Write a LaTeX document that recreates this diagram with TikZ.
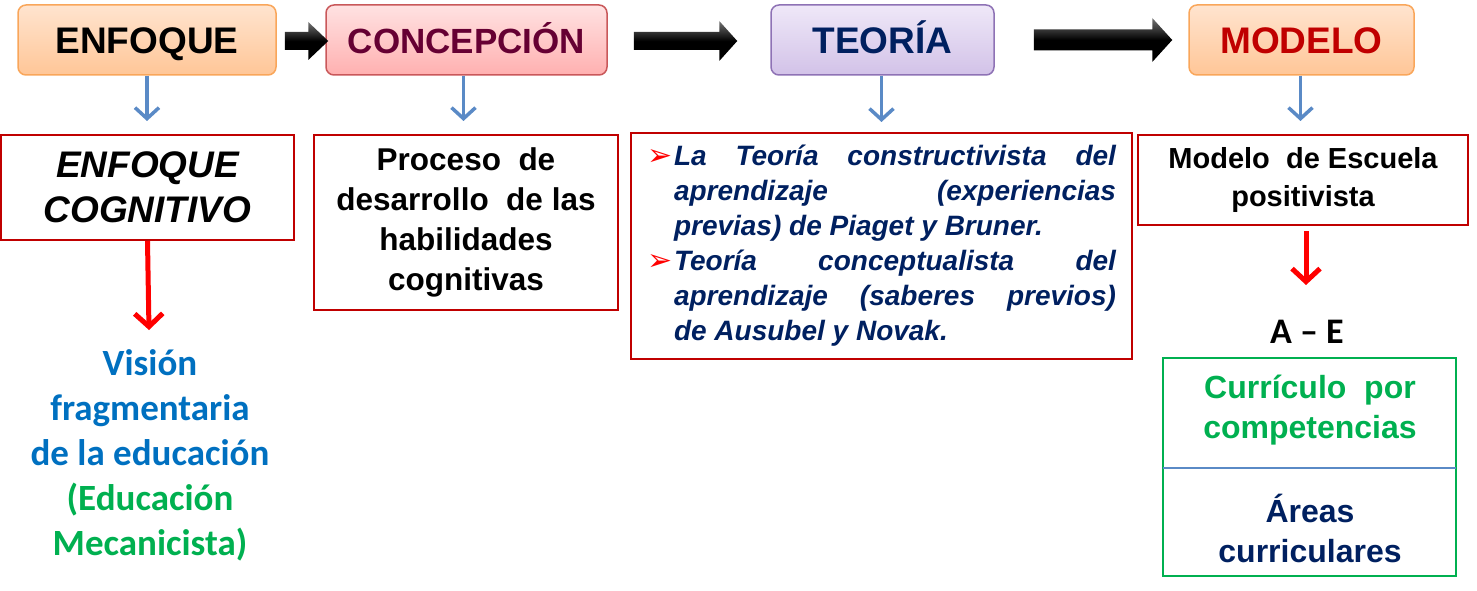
\documentclass[tikz,border=0pt]{standalone}
\usepackage{fontspec}
\setmainfont{Liberation Sans}
\newfontfamily\calibri{Carlito}
\newfontfamily\dejavu{DejaVu Sans}
\usetikzlibrary{arrows.meta,calc}
\definecolor{redbd}{HTML}{C00000}
\definecolor{navy}{HTML}{002060}
\definecolor{maroon}{HTML}{660033}
\definecolor{vblue}{HTML}{0070C0}
\definecolor{vgreen}{HTML}{00B050}
\definecolor{arrblue}{HTML}{5A8AC6}
\definecolor{orbd}{HTML}{F9A65A}
\definecolor{ortop}{HTML}{FFE4CF}
\definecolor{orbot}{HTML}{FFC697}
\definecolor{pkbd}{HTML}{C9585A}
\definecolor{pktop}{HTML}{FFE2E2}
\definecolor{pkbot}{HTML}{FFB0B0}
\definecolor{vibd}{HTML}{8E72B5}
\definecolor{vitop}{HTML}{EFE8F8}
\definecolor{vibot}{HTML}{D2C2E8}
\tikzset{
  hdr/.style={rounded corners=8pt, line width=1.5pt, minimum height=70pt,
    font=\fontsize{37}{40}\selectfont\bfseries, inner sep=0pt,
    text height=26.5pt, text depth=0pt},
  redbox/.style={draw=redbd, line width=2pt, inner sep=0pt, align=center},
  bluearr/.style={draw=arrblue, line width=3.5pt, -{Straight Barb[length=11pt,width=24pt]}},
  redarr/.style={draw=red, line width=5pt, -{Straight Barb[length=13pt,width=28pt]}},
  blockarr/.style={top color=black!55, bottom color=black, middle color=black},
}
\newcommand\blockarrow[5]{%
  \shade[blockarr] let \p1=(#1), \p2=(#2) in
    (\x1,\y1+#3) -- (\x2-#5,\y1+#3) -- (\x2-#5,\y1+#4) -- (\x2,\y1) --
    (\x2-#5,\y1-#4) -- (\x2-#5,\y1-#3) -- (\x1,\y1-#3) -- cycle;}
\newcommand\bul{\makebox[27pt][l]{\raisebox{0pt}{\fontsize{30}{30}\selectfont\color{red}\dejavu ➢}}}
\begin{document}
\begin{tikzpicture}[x=1pt,y=-1pt]
\useasboundingbox (0,0) rectangle (1477,591);
% header boxes
\node[hdr, draw=orbd, top color=ortop, bottom color=orbot, minimum width=258pt] (enf) at (147,40) {ENFOQUE};
\node[hdr, draw=pkbd, top color=pktop, bottom color=pkbot, minimum width=281pt, text=maroon,
  font=\fontsize{35}{40}\selectfont\bfseries] (con) at (466.5,40) {CONCEPCIÓN};
\node[hdr, draw=vibd, top color=vitop, bottom color=vibot, minimum width=223pt, text=navy] (teo) at (882.5,40) {TEORÍA};
\node[hdr, draw=orbd, top color=ortop, bottom color=orbot, minimum width=225pt, text=redbd] (mod) at (1301.5,40) {MODELO};
% block arrows
\coordinate (a1s) at ($(enf.east)+(8,1)$);
\coordinate (a1e) at ($(con.west)+(3,1)$);
\coordinate (a2s) at ($(con.east)+(26,1)$);
\coordinate (a2e) at ($(teo.west)+(-33,1)$);
\coordinate (a3s) at ($(teo.east)+(39,0)$);
\coordinate (a3e) at ($(mod.west)+(-16,0)$);
\blockarrow{a1s}{a1e}{9pt}{19pt}{20pt}
\blockarrow{a2s}{a2e}{9pt}{20pt}{18pt}
\blockarrow{a3s}{a3e}{10.5pt}{22pt}{20pt}
% second row
\node[redbox, minimum width=293pt, minimum height=105pt,
  font=\fontsize{37}{45}\selectfont\bfseries\itshape] (cog) at (147.5,187.5) {ENFOQUE\\COGNITIVO};
\node[redbox, minimum width=304pt, minimum height=175pt,
  font=\fontsize{31.5}{40}\selectfont\bfseries] (pro) at (466,222.5) {Proceso \ de\\desarrollo \ de las\\habilidades\\cognitivas};
\node[redbox, text width=469pt, inner xsep=16pt, minimum height=226pt, align=justify,
  font=\fontsize{28}{35}\selectfont\bfseries\itshape, text=navy] (teot) at (881.5,246) {%
\hangindent=27pt\hangafter=1\noindent\bul La Teoría constructivista del\linebreak aprendizaje (experiencias\linebreak previas) de Piaget y Bruner.\par
\hangindent=27pt\hangafter=1\noindent\bul Teoría conceptualista del\linebreak aprendizaje (saberes previos)\linebreak de Ausubel y Novak.\par};
\node[redbox, minimum width=330pt, minimum height=90pt,
  font=\fontsize{29}{38}\selectfont\bfseries] (mde) at (1303,180) {Modelo \ de Escuela\\positivista};
% blue arrows
\draw[bluearr, shorten >=13pt] (enf.south) -- (enf.south |- cog.north);
\draw[bluearr, shorten >=13pt] ($(con.south)+(-3,0)$) -- ($(con.south |- pro.north)+(-3,0)$);
\draw[bluearr, shorten >=10pt] ($(teo.south)+(-1,0)$) -- ($(teo.south |- teot.north)+(-1,0)$);
\draw[bluearr, shorten >=13pt] ($(mod.south)+(-1,0)$) -- ($(mod.south |- mde.north)+(-1,0)$);
% lower texts
\node[align=center, font=\fontsize{37}{45}\selectfont\calibri\bfseries] (vis) at (150,455)
  {\color{vblue}Visión\\\color{vblue}fragmentaria\\\color{vblue}de la educación\\\color{vgreen}(Educación\\\color{vgreen}Mecanicista)};
\node[font=\fontsize{36}{36}\selectfont\calibri\bfseries] (ae) at (1307,332) {A – E};
\node[draw=vgreen, line width=2pt, minimum width=293pt, minimum height=218pt] (abox) at (1309.5,467) {};
\draw[arrblue, line width=2pt] ($(abox.west)+(1,1)$) -- ($(abox.east)+(-1,1)$);
\node[align=center, text=vgreen, font=\fontsize{32}{40}\selectfont\bfseries] (curr) at (1310,410) {Currículo \ por\\competencias};
\node[align=center, text=navy, font=\fontsize{32}{40}\selectfont\bfseries] (areas) at (1310,528) {Áreas\\curriculares};
% red arrows
\coordinate (v1) at (149,330);
\coordinate (m1) at (1306,285);
\draw[redarr] (cog.south) -- (v1);
\draw[redarr, shorten <=5pt] (mde.south -| m1) -- (m1);
\end{tikzpicture}
\end{document}
